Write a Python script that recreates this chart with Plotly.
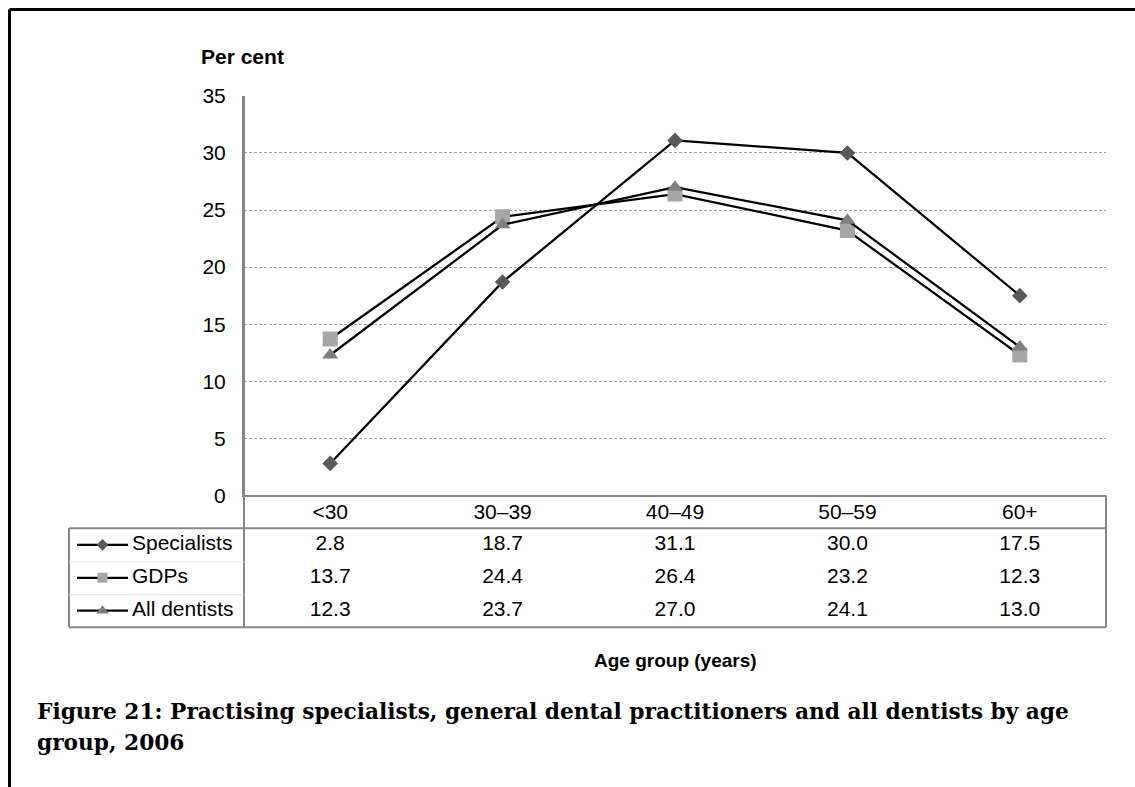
import plotly.graph_objects as go

# ---------------- data ----------------
categories = ["<30", "30–39", "40–49", "50–59", "60+"]
series_names = ["Specialists", "GDPs", "All dentists"]
specialists = [2.8, 18.7, 31.1, 30.0, 17.5]
gdps = [13.7, 24.4, 26.4, 23.2, 12.3]
all_dentists = [12.3, 23.7, 27.0, 24.1, 13.0]
y_ticks = [0, 5, 10, 15, 20, 25, 30, 35]

series_values = [specialists, gdps, all_dentists]
series_symbols = ["diamond", "square", "triangle-up"]
series_colors = ["#595959", "#A6A6A6", "#7F7F7F"]
series_msize = [12, 15, 14]
key_msize = [9, 10, 11]

W, H = 1135, 787          # target picture size
FIG_H = 809               # figure height (page is shown slightly compressed)
TOP_OFF = -11
def px(x):
    return x / W
def py(y):
    return 1 - y / H

# layout geometry (pixels in the target picture)
PL, PR, PT, PB = 244, 1106, 95, 495      # plot area
TL, TT, TB = 69, 528, 627                # table
GRID = "#868686"
FONT = "Liberation Sans, Arial, sans-serif"
FS = 21

fig = go.Figure()

# lines in plot
for name, vals, sym, col, ms in zip(series_names, series_values, series_symbols, series_colors, series_msize):
    fig.add_trace(go.Scatter(
        x=categories, y=vals, mode="lines+markers", name=name,
        line=dict(color="black", width=2.25),
        marker=dict(symbol=sym, size=ms, color=col, line=dict(width=0)),
        xaxis="x", yaxis="y", showlegend=False, hoverinfo="skip"))

# data-table values
for i, (name, vals) in enumerate(zip(series_names, series_values)):
    fig.add_trace(go.Scatter(
        x=categories, y=[i + 0.5] * len(vals), mode="text",
        text=[f"{v:.1f}" for v in vals],
        textfont=dict(family=FONT, size=FS, color="black"),
        xaxis="x", yaxis="y2", showlegend=False, hoverinfo="skip"))

# legend keys in table (line + marker) and labels
for i, (name, sym, col, ms) in enumerate(zip(series_names, series_symbols, series_colors, key_msize)):
    fig.add_trace(go.Scatter(
        x=[77, 128], y=[i + 0.5, i + 0.5], mode="lines",
        line=dict(color="black", width=2.25),
        xaxis="x3", yaxis="y2", showlegend=False, hoverinfo="skip"))
    fig.add_trace(go.Scatter(
        x=[102.5], y=[i + 0.5], mode="markers",
        marker=dict(symbol=sym, size=ms, color=col, line=dict(width=0)),
        xaxis="x3", yaxis="y2", showlegend=False, hoverinfo="skip"))
    fig.add_trace(go.Scatter(
        x=[132], y=[i + 0.5], mode="text", text=[name], textposition="middle right",
        textfont=dict(family=FONT, size=FS, color="black"),
        xaxis="x3", yaxis="y2", showlegend=False, hoverinfo="skip"))

shapes = []
def line(x0, y0, x1, y1, color=GRID, width=2):
    shapes.append(dict(type="line", xref="paper", yref="paper",
                       x0=px(x0), y0=py(y0), x1=px(x1), y1=py(y1),
                       line=dict(color=color, width=width), layer="above"))

# table borders
line(PL, PT, PL, TB)          # vertical axis extended through table
line(TL, TT, PR, TT)          # header bottom
line(TL, TT, TL, TB)          # table left
line(TL, TB, PR, TB)          # table bottom
line(PR, PB, PR, TB)          # table right
# faint row separators in legend column
line(TL, 561.5, PL, 561.5, color="#E6E6E6", width=1)
line(TL, 594.5, PL, 594.5, color="#E6E6E6", width=1)
# outer frame
line(9.5, 8.5, W, 8.5, color="black", width=3)
line(9.5, 8.5, 9.5, H, color="black", width=3)

annotations = [
    dict(text="<b>Per cent</b>", x=px(199), y=py(56), xref="paper", yref="paper",
         xanchor="left", yanchor="middle", showarrow=False,
         font=dict(family=FONT, size=FS, color="black")),
    dict(text="<b>Age group (years)</b>", x=px(675), y=py(660), xref="paper", yref="paper",
         xanchor="center", yanchor="middle", showarrow=False,
         font=dict(family=FONT, size=19, color="black")),
    dict(text="<b>Figure 21: Practising specialists, general dental practitioners and all dentists by age</b>",
         x=px(35), y=py(711), xref="paper", yref="paper", align="left",
         xanchor="left", yanchor="middle", showarrow=False,
         font=dict(family="DejaVu Serif, serif", size=21.7, color="black")),
    dict(text="<b>group, 2006</b>",
         x=px(35), y=py(742), xref="paper", yref="paper", align="left",
         xanchor="left", yanchor="middle", showarrow=False,
         font=dict(family="DejaVu Serif, serif", size=21.7, color="black")),
]

fig.update_layout(
    width=W, height=FIG_H,
    margin=dict(l=0, r=0, t=0, b=0, pad=0),
    paper_bgcolor="white", plot_bgcolor="white",
    font=dict(family=FONT, size=FS, color="black"),
    shapes=shapes, annotations=annotations,
    xaxis=dict(domain=[px(PL), px(PR)], anchor="y", type="category",
               categoryorder="array", categoryarray=categories,
               range=[-0.5, len(categories) - 0.5],
               showgrid=False, zeroline=False, showline=True, linecolor=GRID, linewidth=2,
               ticks="", tickfont=dict(family=FONT, size=FS, color="black"),
               ticklabelstandoff=-4),
    yaxis=dict(domain=[py(PB), py(PT)], anchor="x", range=[0, 35],
               tickmode="array", tickvals=y_ticks,
               showgrid=True, gridcolor="#A0A0A0", gridwidth=1, griddash="3px,2px",
               zeroline=False, showline=True, linecolor=GRID, linewidth=2,
               ticks="", ticklabelstandoff=12,
               tickfont=dict(family=FONT, size=FS, color="black")),
    yaxis2=dict(domain=[py(TB), py(TT)], anchor="x", range=[3, 0],
                visible=False, fixedrange=True),
    xaxis3=dict(domain=[px(TL), px(PL)], anchor="y2", range=[TL, PL],
                visible=False, fixedrange=True),
)

post = ("var gd=document.getElementById('{plot_id}');"
        "gd.style.position='fixed';gd.style.top='" + str(TOP_OFF) + "px';gd.style.left='0px';"
        "document.body.style.margin='0';document.documentElement.style.overflow='hidden';")
fig.write_html("out.html", config={"displayModeBar": False}, post_script=post)
